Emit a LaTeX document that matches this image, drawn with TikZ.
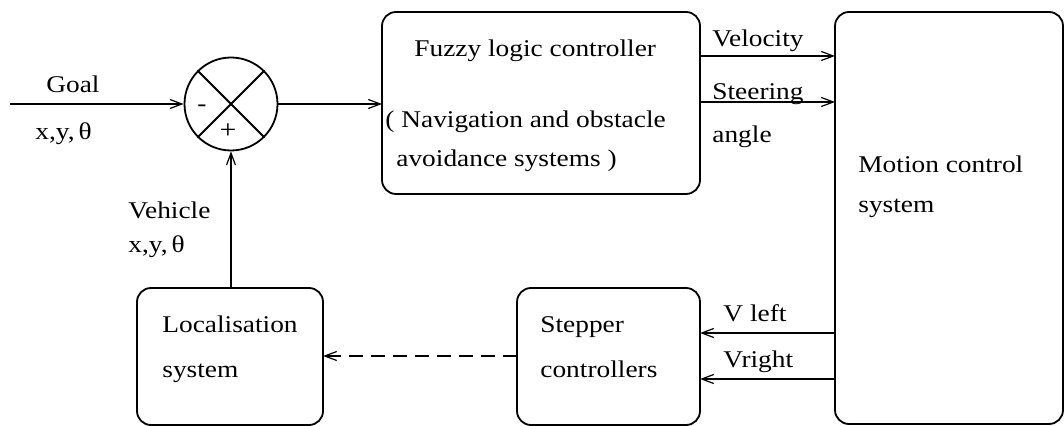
\documentclass[tikz,border=0pt]{standalone}
\usepackage{fontspec}
\setmainfont{Liberation Serif}[FakeStretch=1.14]
\usetikzlibrary{arrows.meta}
\begin{document}
\begin{tikzpicture}[x=0.5pt,y=-0.5pt,
  blk/.style={draw,line width=0.9pt,rounded corners=7pt},
  conn/.style={line width=0.7pt,-{Straight Barb[length=6pt,width=4.5pt,line width=0.6pt]}},
  lbl/.style={inner sep=0pt,anchor=base west},
  every node/.style={font=\fontsize{12}{14}\selectfont}]
\useasboundingbox (0,0) rectangle (1064,426);
% boxes
\draw[blk] (382,12) rectangle (700,194);
\draw[blk] (835,12) rectangle (1063,424);
\draw[blk] (517,288) rectangle (700,425);
\draw[blk] (137,288) rectangle (323,425);
\coordinate (fuzzyW) at (382,104);
\coordinate (fuzzyVel) at (700,56);
\coordinate (fuzzySt) at (700,102);
\coordinate (motVel) at (835,56);
\coordinate (motSt) at (835,102);
\coordinate (motVl) at (835,333);
\coordinate (motVr) at (835,379);
\coordinate (stepVl) at (700,333);
\coordinate (stepVr) at (700,379);
\coordinate (stepW) at (517,356);
\coordinate (locE) at (323,356);
\coordinate (locN) at (231,288);
\coordinate (start) at (10,104);
% summing junction
\node[draw,circle,line width=0.9pt,inner sep=0pt,minimum size=46.5pt] (sum) at (231,104) {};
\draw[line width=0.9pt] (sum.45) -- (sum.225) (sum.135) -- (sum.315);
\node[inner sep=0pt] (minus) at (202,108) {-};
\node[inner sep=0pt,font=\fontsize{13}{14}\selectfont] (plus) at (228,131) {+};
% connectors
\draw[conn] (start) -- (sum.west);
\draw[conn] (sum.east) -- (fuzzyW);
\draw[conn] (fuzzyVel) -- (motVel);
\draw[conn] (fuzzySt) -- (motSt);
\draw[conn] (motVl) -- (stepVl);
\draw[conn] (motVr) -- (stepVr);
\draw[conn,dashed,dash pattern=on 7pt off 4pt] (stepW) -- (locE);
\draw[conn] (locN) -- (sum.south);
% labels
\node[lbl] (goal) at (46,93) {Goal};
\node[lbl] (goalx) at (35,140) {x,y,\,θ};
\node[lbl] (veh) at (128,219) {Vehicle};
\node[lbl] (vehx) at (128,253) {x,y,\,θ};
\node[lbl] (f1) at (414,57) {Fuzzy logic controller};
\node[lbl] (f2) at (385,128) {( Navigation and obstacle};
\node[lbl] (f3) at (396,167) {avoidance systems )};
\node[lbl] (vel) at (712,47) {Velocity};
\node[lbl] (st) at (712,100) {Steering};
\node[lbl] (ang) at (712,143) {angle};
\node[lbl] (m1) at (858,173) {Motion control};
\node[lbl] (m2) at (858,213) {system};
\node[lbl] (vl) at (723,322) {V left};
\node[lbl] (vr) at (723,368) {Vright};
\node[lbl] (s1) at (540,333) {Stepper};
\node[lbl] (s2) at (540,378) {controllers};
\node[lbl] (l1) at (162,333) {Localisation};
\node[lbl] (l2) at (162,378) {system};
\end{tikzpicture}
\end{document}
